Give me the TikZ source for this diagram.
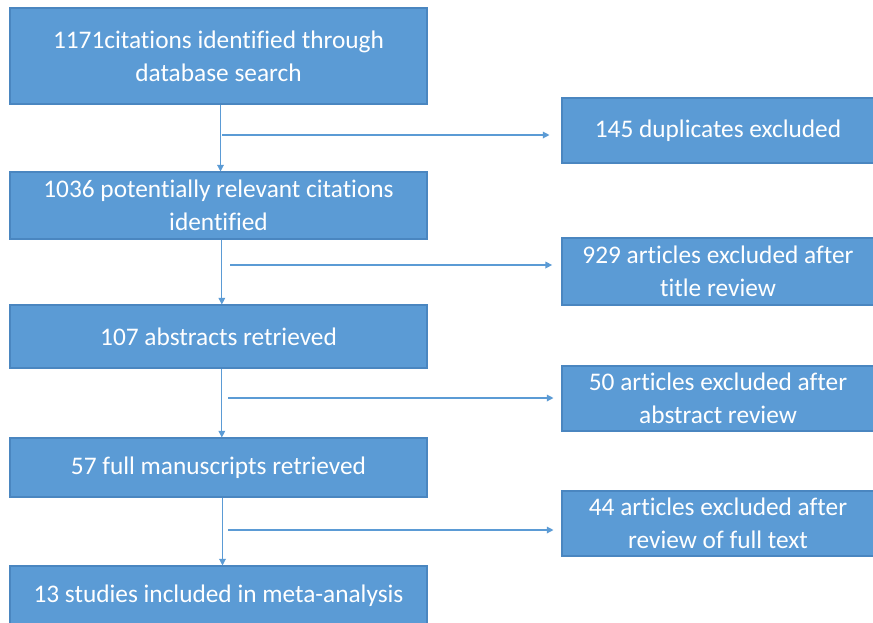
\documentclass[tikz,border=0pt]{standalone}
\usepackage{fontspec}
\setmainfont[Ligatures={NoCommon}]{Carlito}
\usetikzlibrary{arrows.meta}
\definecolor{boxblue}{HTML}{5B9BD5}
\definecolor{boxedge}{HTML}{4A86C0}
\begin{document}
\begin{tikzpicture}[x=0.75pt,y=-0.75pt,
  mainbox/.style={draw=boxedge,line width=0.8pt,fill=boxblue,text=white,align=center,
    minimum width=312.75pt,inner sep=0pt,font=\fontsize{19}{24.75}\selectfont},
  sidebox/.style={draw=boxedge,line width=0.8pt,fill=boxblue,text=white,align=center,
    minimum width=234pt,inner sep=0pt,font=\fontsize{19}{24.75}\selectfont},
  flow/.style={draw=boxblue,line width=0.9pt,-{Triangle[length=5pt,width=5pt]}}]
\useasboundingbox (0,0) rectangle (873,622);
\fill[white] (0,0) rectangle (873,622);
\begin{scope}
\clip (0,0) rectangle (873,622);
\node[mainbox,minimum height=72pt] (b1) at (218.5,56) {1171citations identified through\\database search};
\node[mainbox,minimum height=50.25pt] (b2) at (218.5,205.5) {1036 potentially relevant citations\\identified};
\node[mainbox,minimum height=47.25pt] (b3) at (218.5,336.5) {107 abstracts retrieved};
\node[mainbox,minimum height=44.25pt] (b4) at (218.5,467.5) {57 full manuscripts retrieved};
\node[mainbox,minimum height=45pt] (b5) at (218.5,596) {13 studies included in meta-analysis};
\node[sidebox,minimum height=48.75pt] (r1) at (718,130.5) {145 duplicates excluded};
\node[sidebox,minimum height=50.25pt] (r2) at (718,271.5) {929 articles excluded after\\title review};
\node[sidebox,minimum height=48.75pt] (r3) at (718,398.5) {50 articles excluded after\\abstract review};
\node[sidebox,minimum height=48.75pt] (r4) at (718,523.5) {44 articles excluded after\\review of full text};
\end{scope}
\coordinate (h1) at (222,135);
\coordinate (h2) at (230,265);
\coordinate (h3) at (228,398);
\coordinate (h4) at (228,530);
\draw[flow] ([xshift=1.5pt]b1.south) -- ([xshift=1.5pt]b2.north);
\draw[flow] ([xshift=2.5pt]b2.south) -- ([xshift=2.5pt]b3.north);
\draw[flow] ([xshift=2.5pt]b3.south) -- ([xshift=2.5pt]b4.north);
\draw[flow] ([xshift=3pt]b4.south) -- ([xshift=3pt]b5.north);
\draw[flow,shorten >=9pt] (h1) -- (h1 -| r1.west);
\draw[flow,shorten >=7pt] (h2) -- (h2 -| r2.west);
\draw[flow,shorten >=6pt] (h3) -- (h3 -| r3.west);
\draw[flow,shorten >=6pt] (h4) -- (h4 -| r4.west);
\end{tikzpicture}
\end{document}
